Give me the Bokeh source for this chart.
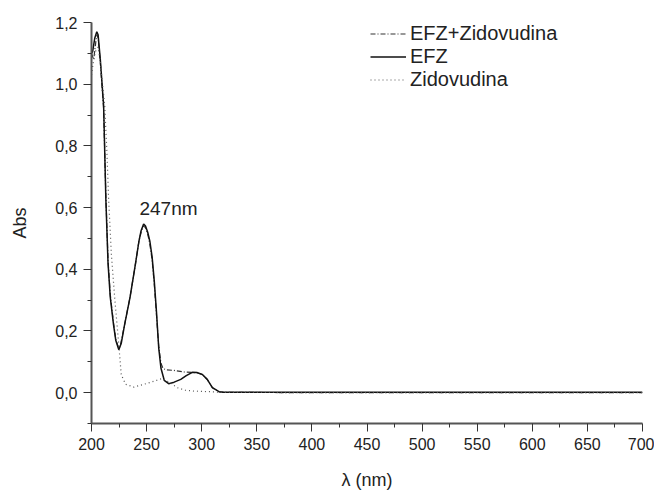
from bokeh.plotting import figure
from bokeh.models import Range1d, FixedTicker, CustomJSTickFormatter, Legend, LegendItem
from bokeh.core.properties import value
from bokeh.embed import file_html
from bokeh.resources import INLINE

# EFZ + Zidovudina (dash-dot)
wl_mix = [200, 202, 204, 205, 206, 208, 210, 211, 213, 215, 217, 220, 222, 224.5, 226, 230, 235, 240, 243, 245, 247, 249, 251, 253, 255, 257, 259, 261, 263, 265, 268, 275, 284, 291, 296, 300.6, 305, 309.7, 315.7, 320, 400, 500, 600, 700]
abs_mix = [1.10, 1.08, 1.14, 1.16, 1.15, 1.07, 0.97, 0.92, 0.64, 0.43, 0.32, 0.225, 0.175, 0.145, 0.15, 0.22, 0.31, 0.42, 0.49, 0.52, 0.54, 0.535, 0.515, 0.48, 0.43, 0.35, 0.25, 0.15, 0.095, 0.078, 0.074, 0.072, 0.067, 0.066, 0.064, 0.059, 0.043, 0.016, 0.003, 0.001, 0.0, 0.0, 0.0, 0.0]

# EFZ (solid)
wl_efz = [200, 201, 203, 204.8, 206, 208, 210, 211, 213, 215, 217, 220, 222, 224.8, 227, 230, 235, 240, 243, 245, 247.3, 249, 251, 253, 255, 257, 259, 261, 263, 266, 270, 275, 281, 286, 291.5, 296, 300.6, 305, 309.7, 315.7, 320, 400, 500, 600, 700]
abs_efz = [1.10, 1.105, 1.15, 1.17, 1.16, 1.08, 0.98, 0.93, 0.63, 0.42, 0.31, 0.22, 0.17, 0.139, 0.16, 0.22, 0.31, 0.42, 0.49, 0.525, 0.547, 0.54, 0.52, 0.49, 0.44, 0.36, 0.26, 0.145, 0.08, 0.04, 0.029, 0.034, 0.043, 0.055, 0.066, 0.065, 0.059, 0.043, 0.016, 0.003, 0.001, 0.001, 0.001, 0.001, 0.001]

# Zidovudina (dotted)
wl_zid = [200, 202, 204, 206, 208, 210, 212, 214, 215.5, 218, 221, 225, 227, 231, 238.5, 247.5, 256.7, 264, 270, 278, 285, 293, 308, 320, 400, 500, 600, 700]
abs_zid = [1.03, 1.08, 1.11, 1.12, 1.07, 1.0, 0.93, 0.78, 0.63, 0.45, 0.31, 0.145, 0.058, 0.027, 0.018, 0.027, 0.037, 0.046, 0.035, 0.016, 0.008, 0.005, 0.003, 0.001, 0.0, 0.0, 0.0, 0.0]

x_ticks = [200, 250, 300, 350, 400, 450, 500, 550, 600, 650, 700]
y_ticks = [0.0, 0.2, 0.4, 0.6, 0.8, 1.0, 1.2]
peak_label = "247nm"
peak_x = 243.5
peak_y = 0.598

FONT = "Liberation Sans"
TXT = "#222222"
AX = "#555555"

p = figure(width=654, height=492, output_backend="svg", toolbar_location=None,
           x_range=Range1d(200, 700), y_range=Range1d(-0.1, 1.2),
           min_border_left=91, min_border_right=12, min_border_top=22, min_border_bottom=66)
p.outline_line_color = None
p.xgrid.visible = False
p.ygrid.visible = False
p.background_fill_color = "white"

r_mix = p.line(wl_mix, abs_mix, line_color="#333333", line_width=1.2, line_dash="5 2 1 2")
r_efz = p.line(wl_efz, abs_efz, line_color="#111111", line_width=1.5)
r_zid = p.line(wl_zid, abs_zid, line_color="#555555", line_width=1.2, line_dash="1 3")

p.text(x=[peak_x], y=[peak_y], text=[peak_label], text_font=value(FONT), text_font_size="19px",
       text_color=TXT, text_align="left", text_baseline="alphabetic")

for ax in (p.xaxis[0], p.yaxis[0]):
    ax.axis_line_color = AX
    ax.axis_line_width = 2
    ax.major_tick_line_color = "#333333"
    ax.minor_tick_line_color = "#333333"
    ax.major_tick_out = 8
    ax.major_tick_in = 0
    ax.minor_tick_out = 4
    ax.minor_tick_in = 0
    ax.major_label_text_font = FONT
    ax.major_label_text_font_size = "16px"
    ax.major_label_text_color = TXT
    ax.axis_label_text_font = FONT
    ax.axis_label_text_font_size = "18px"
    ax.axis_label_text_font_style = "normal"
    ax.axis_label_text_color = TXT

p.xaxis.ticker = FixedTicker(ticks=x_ticks, minor_ticks=[v + 25 for v in x_ticks[:-1]])
p.yaxis.ticker = FixedTicker(ticks=y_ticks, minor_ticks=[-0.1] + [round(v + 0.1, 2) for v in y_ticks[:-1]])
p.yaxis.formatter = CustomJSTickFormatter(code="return tick.toFixed(1).replace('.', ',');")
p.xaxis.axis_label = "λ (nm)"
p.yaxis.axis_label = "Abs"
p.xaxis.major_label_standoff = 6
p.yaxis.major_label_standoff = 6
p.xaxis.axis_label_standoff = 17
p.yaxis.axis_label_standoff = 22

legend = Legend(items=[LegendItem(label="EFZ+Zidovudina", renderers=[r_mix]),
                       LegendItem(label="EFZ", renderers=[r_efz]),
                       LegendItem(label="Zidovudina", renderers=[r_zid])],
                location=(279, 332), padding=0, spacing=0, margin=0,
                glyph_width=36, glyph_height=23, label_height=23, label_standoff=4,
                border_line_color=None, background_fill_alpha=0,
                label_text_font=FONT, label_text_font_size="20px", label_text_color=TXT)
p.add_layout(legend, "center")

open("out.html", "w").write(file_html(p, INLINE))
